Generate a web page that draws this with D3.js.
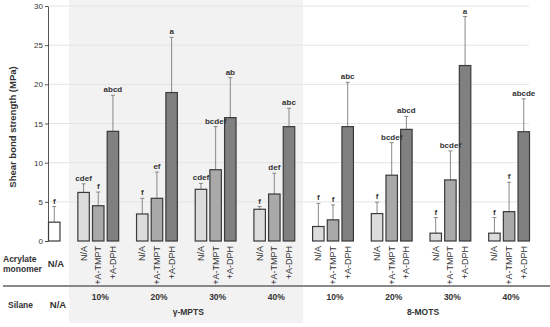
<!DOCTYPE html>
<html>
<head>
<meta charset="utf-8">
<script src="https://cdn.jsdelivr.net/npm/d3@7"></script>
<style>
  body { margin: 0; background: #fff; }
  text { font-family: "Liberation Sans", Arial, sans-serif; }
</style>
</head>
<body>
<svg id="chart" width="550" height="327"></svg>
<script>
// ---- data ----
let monomers = ['N/A', '+A-TMPT', '+A-DPH'];
let concentrations = ['10%', '20%', '30%', '40%', '10%', '20%', '30%', '40%'];
let silanes = ['γ-MPTS', '8-MOTS'];

let controlValue = 2.4;
let controlError = 4.4;
let controlLabel = 'f';

// one entry per group, order N/A, +A-TMPT, +A-DPH
let means = [
  [6.2, 4.5, 14.0],
  [3.45, 5.45, 18.95],
  [6.6, 9.1, 15.75],
  [4.05, 6.0, 14.6],
  [1.85, 2.7, 14.6],
  [3.5, 8.4, 14.25],
  [1.0, 7.8, 22.4],
  [1.0, 3.75, 13.95]
];
let errTops = [
  [7.3, 6.25, 18.6],
  [5.45, 8.8, 26.0],
  [7.35, 14.6, 20.85],
  [4.4, 8.65, 16.95],
  [4.8, 4.6, 20.25],
  [4.95, 12.55, 15.9],
  [3.0, 11.5, 28.65],
  [3.0, 7.5, 18.15]
];
let letters = [
  ['cdef', 'f', 'abcd'],
  ['f', 'ef', 'a'],
  ['cdef', 'bcdef', 'ab'],
  ['f', 'def', 'abc'],
  ['f', 'f', 'abc'],
  ['f', 'bcdef', 'abcd'],
  ['f', 'bcdef', 'a'],
  ['f', 'f', 'abcde']
];
let yTicks = [0, 5, 10, 15, 20, 25, 30];

let fills = ['#dcdcdc', '#a9a9a9', '#808080'];

// ---- layout ----
let svg = d3.select('#chart');
let y = d3.scaleLinear().domain([0, 30]).range([241, 6]);

// slot 0 = control, group g bar j at slot 2 + 4g + j
let x = d3.scaleBand()
  .domain(d3.range(33))
  .range([48, 530])
  .paddingInner(0.15)
  .paddingOuter(0);

let bars = [{ slot: 0, v: controlValue, e: controlError, lab: controlLabel, fill: '#ffffff' }];
means.forEach(function (g, gi) {
  g.forEach(function (v, j) {
    bars.push({ slot: 2 + 4 * gi + j, v: v, e: errTops[gi][j], lab: letters[gi][j], fill: fills[j], j: j, gi: gi });
  });
});

//======= shaded γ-MPTS block =======//
svg.append('rect')
  .attr('x', 69).attr('y', 0)
  .attr('width', 234).attr('height', 323)
  .attr('fill', '#f2f2f2');

//======= grid + axis =======//
svg.append('g')
  .selectAll('line')
  .data(yTicks.filter(function (d) { return d > 0; }))
  .enter()
  .append('line')
  .attr('x1', 48).attr('x2', 529)
  .attr('y1', function (d) { return y(d); })
  .attr('y2', function (d) { return y(d); })
  .attr('stroke', '#e4e4e4')
  .attr('stroke-width', 1);

let yAxis = svg.append('g')
  .attr('transform', 'translate(48,0)')
  .call(d3.axisLeft(y).tickValues(yTicks).tickSize(3).tickSizeOuter(0));
yAxis.select('.domain').attr('stroke', '#555');
yAxis.selectAll('.tick line').attr('stroke', '#555');
yAxis.selectAll('.tick text').attr('font-size', 8).attr('fill', '#333').attr('x', -5);

svg.append('text')
  .attr('transform', 'translate(16,127) rotate(-90)')
  .attr('text-anchor', 'middle')
  .attr('font-size', 9.5)
  .attr('font-weight', 'bold')
  .attr('fill', '#333')
  .text('Shear bond strength (MPa)');

//======= error bars =======//
let errG = svg.append('g').attr('stroke', '#888').attr('stroke-width', 1);
errG.selectAll('line.v')
  .data(bars)
  .enter()
  .append('line')
  .attr('x1', function (d) { return x(d.slot) + x.bandwidth() / 2; })
  .attr('x2', function (d) { return x(d.slot) + x.bandwidth() / 2; })
  .attr('y1', function (d) { return y(d.v); })
  .attr('y2', function (d) { return y(d.e); });
errG.selectAll('line.c')
  .data(bars)
  .enter()
  .append('line')
  .attr('x1', function (d) { return x(d.slot) + x.bandwidth() / 2 - 2; })
  .attr('x2', function (d) { return x(d.slot) + x.bandwidth() / 2 + 2; })
  .attr('y1', function (d) { return y(d.e); })
  .attr('y2', function (d) { return y(d.e); });

//======= bars =======//
svg.append('g')
  .selectAll('rect')
  .data(bars)
  .enter()
  .append('rect')
  .attr('x', function (d) { return x(d.slot) + 0.5; })
  .attr('y', function (d) { return y(d.v); })
  .attr('width', x.bandwidth() - 1)
  .attr('height', function (d) { return y(0) - y(d.v); })
  .attr('fill', function (d) { return d.fill; })
  .attr('stroke', '#3a3a3a')
  .attr('stroke-width', 1.2);

svg.append('g')
  .selectAll('text')
  .data(bars)
  .enter()
  .append('text')
  .attr('x', function (d) { return x(d.slot) + x.bandwidth() / 2; })
  .attr('y', function (d) { return y(d.e) - 3; })
  .attr('text-anchor', 'middle')
  .attr('font-size', 8)
  .attr('font-weight', 'bold')
  .attr('fill', '#333')
  .text(function (d) { return d.lab; });

//======= bottom table =======//
let rowLab = svg.append('g').attr('font-size', 8.5).attr('font-weight', 'bold').attr('fill', '#333');
rowLab.append('text').attr('x', 3).attr('y', 262).text('Acrylate');
rowLab.append('text').attr('x', 3).attr('y', 272).text('monomer');
rowLab.append('text').attr('x', 56).attr('y', 267).attr('text-anchor', 'middle').attr('font-size', 9.5).text('N/A');
rowLab.append('text').attr('x', 8).attr('y', 308).text('Silane');
rowLab.append('text').attr('x', 58).attr('y', 308).attr('text-anchor', 'middle').attr('font-size', 9.5).text('N/A');

svg.append('g')
  .selectAll('text')
  .data(bars.filter(function (d) { return d.slot > 0; }))
  .enter()
  .append('text')
  .attr('transform', function (d) {
    return 'translate(' + (x(d.slot) + x.bandwidth() / 2 + 3) + ',246) rotate(-90)';
  })
  .attr('text-anchor', 'end')
  .attr('font-size', 9)
  .attr('fill', '#333')
  .text(function (d) { return monomers[d.j]; });

svg.append('line')
  .attr('x1', 3).attr('x2', 550)
  .attr('y1', 286).attr('y2', 286)
  .attr('stroke', '#888')
  .attr('stroke-width', 2);

svg.append('g')
  .selectAll('text')
  .data(concentrations)
  .enter()
  .append('text')
  .attr('x', function (d, i) { return x(3 + 4 * i) + x.bandwidth() / 2 + 2; })
  .attr('y', 300)
  .attr('text-anchor', 'middle')
  .attr('font-size', 8.5)
  .attr('font-weight', 'bold')
  .attr('fill', '#333')
  .text(function (d) { return d; });

svg.append('g')
  .selectAll('text')
  .data(silanes)
  .enter()
  .append('text')
  .attr('x', function (d, i) { return (x(2 + 16 * i) + x(2 + 16 * i + 14) + x.bandwidth()) / 2 + 2; })
  .attr('y', 315)
  .attr('text-anchor', 'middle')
  .attr('font-size', 8.5)
  .attr('font-weight', 'bold')
  .attr('fill', '#333')
  .text(function (d) { return d; });
</script>
</body>
</html>
